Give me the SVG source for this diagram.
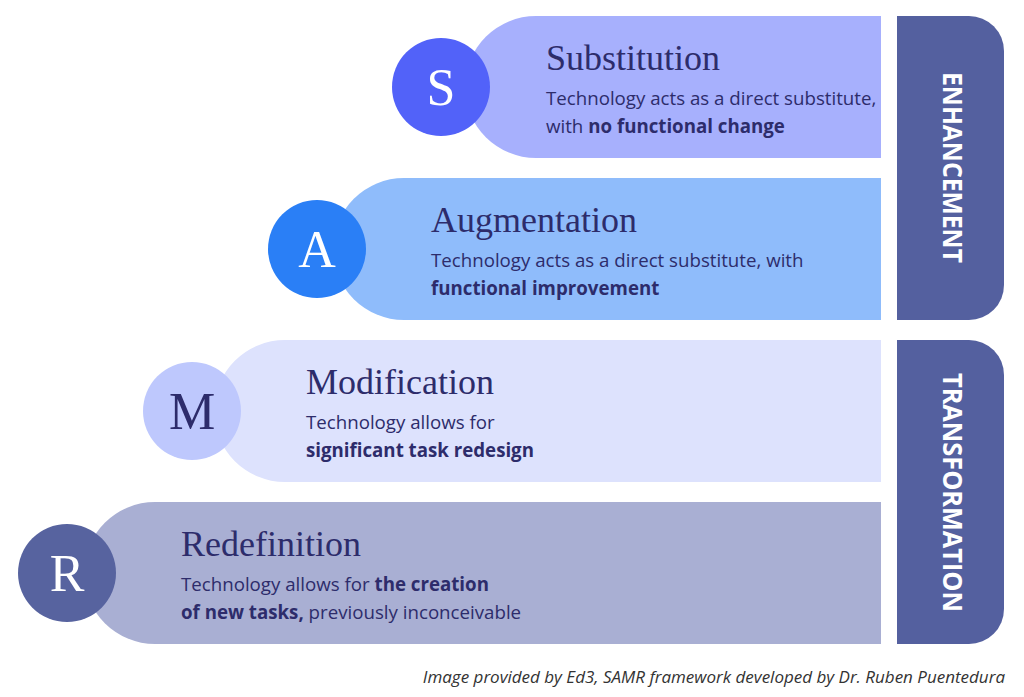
<svg xmlns="http://www.w3.org/2000/svg" width="1024" height="697" viewBox="0 0 1024 697">
  <style>
    .title { font-family: "Liberation Serif", "Times New Roman", serif; font-size: 36px; fill: #2d2c6b; }
    .desc { font-family: "Open Sans", "Liberation Sans", sans-serif; font-size: 18.7px; fill: #2d2c6b; }
    .desc .b { font-weight: bold; }
    .letter { font-family: "Liberation Serif", "Times New Roman", serif; font-size: 52px; text-anchor: middle; }
    .tabtext { font-family: "Open Sans", "Liberation Sans", sans-serif; font-weight: bold; font-size: 26px; fill: #ffffff; text-anchor: middle; }
    .tab { fill: #54609f; }
    .footer { font-family: "Open Sans", "Liberation Sans", sans-serif; font-style: italic; font-size: 17px; fill: #333333; text-anchor: end; }
  </style>
  <rect width="1024" height="697" fill="#ffffff"/>

  <g id="substitution">
    <path d="M536,16 H881 V158 H536 A71,71 0 0 1 536,16 Z" fill="#a7b0fd"/>
    <circle cx="441" cy="87" r="49" fill="#5262f9"/>
    <text class="letter" x="441" y="105" fill="#ffffff">S</text>
    <text class="title" x="546" y="70">Substitution</text>
    <text class="desc" x="546" y="105">Technology acts as a direct substitute,</text>
    <text class="desc" x="546" y="133">with <tspan class="b">no functional change</tspan></text>
  </g>

  <g id="augmentation">
    <path d="M404,178 H881 V320 H404 A71,71 0 0 1 404,178 Z" fill="#8fbcfb"/>
    <circle cx="317" cy="249" r="49" fill="#2a7ff6"/>
    <text class="letter" x="317" y="267" fill="#ffffff">A</text>
    <text class="title" x="431" y="232">Augmentation</text>
    <text class="desc" x="431" y="267">Technology acts as a direct substitute, with</text>
    <text class="desc" x="431" y="295"><tspan class="b">functional improvement</tspan></text>
  </g>

  <g id="modification">
    <path d="M285,340 H881 V482 H285 A71,71 0 0 1 285,340 Z" fill="#dde2fd"/>
    <circle cx="192" cy="411" r="49" fill="#bec8fd"/>
    <text class="letter" x="192" y="429" fill="#2d2c6b">M</text>
    <text class="title" x="306" y="394">Modification</text>
    <text class="desc" x="306" y="429">Technology allows for</text>
    <text class="desc" x="306" y="457"><tspan class="b">significant task redesign</tspan></text>
  </g>

  <g id="redefinition">
    <path d="M155,502 H881 V644 H155 A71,71 0 0 1 155,502 Z" fill="#a9afd3"/>
    <circle cx="67" cy="573" r="49" fill="#57639f"/>
    <text class="letter" x="67" y="591" fill="#ffffff">R</text>
    <text class="title" x="181" y="556">Redefinition</text>
    <text class="desc" x="181" y="591">Technology allows for <tspan class="b">the creation</tspan></text>
    <text class="desc" x="181" y="619"><tspan class="b">of new tasks,</tspan> previously inconceivable</text>
  </g>

  <g id="enhancement">
    <path class="tab" d="M897,16 H969 A35,35 0 0 1 1004,51 V285 A35,35 0 0 1 969,320 H897 Z"/>
    <text class="tabtext" transform="translate(943,167.5) rotate(90)" x="0" y="0" textLength="191" lengthAdjust="spacingAndGlyphs">ENHANCEMENT</text>
  </g>

  <g id="transformation">
    <path class="tab" d="M897,340 H969 A35,35 0 0 1 1004,375 V609 A35,35 0 0 1 969,644 H897 Z"/>
    <text class="tabtext" transform="translate(943,492.5) rotate(90)" x="0" y="0" textLength="239" lengthAdjust="spacingAndGlyphs">TRANSFORMATION</text>
  </g>

  <g id="connectors"></g>

  <text class="footer" x="1005" y="683">Image provided by Ed3, SAMR framework developed by Dr. Ruben Puentedura</text>
</svg>
